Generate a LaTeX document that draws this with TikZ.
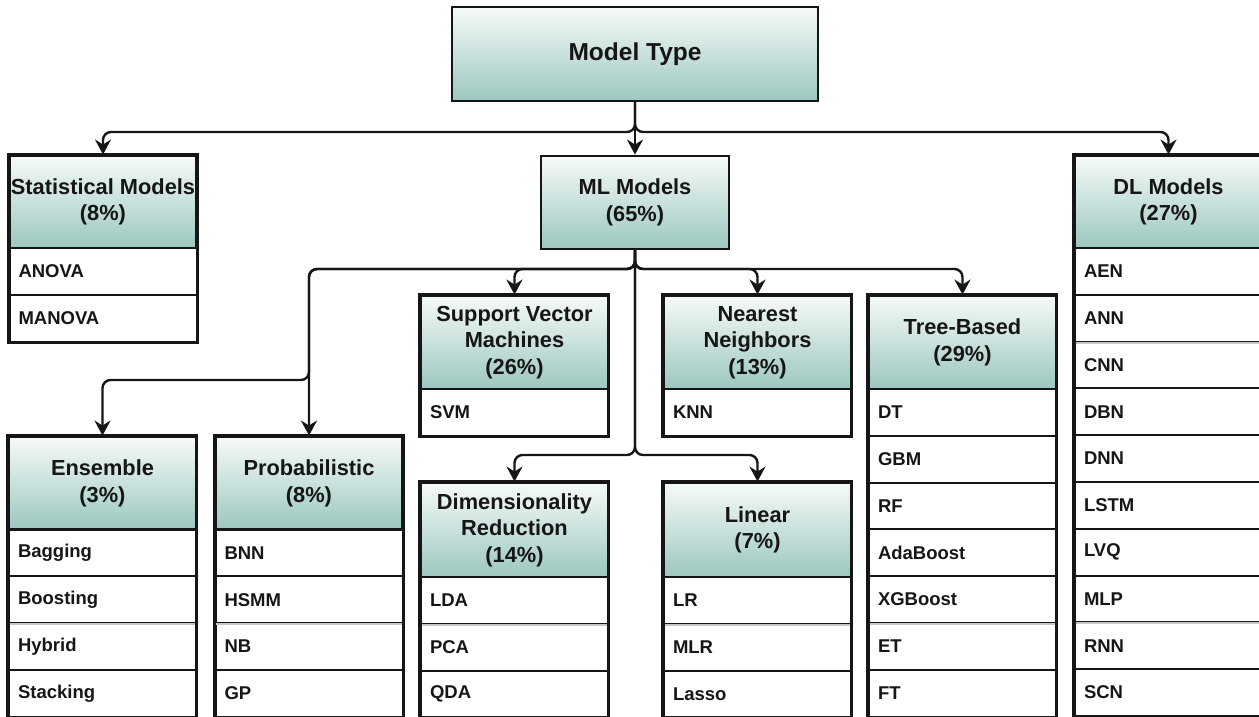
\documentclass[tikz,border=0pt]{standalone}
\usepackage{fontspec}
\setmainfont{Liberation Sans}
\usetikzlibrary{arrows.meta}
\definecolor{hdtop}{RGB}{246,250,249}
\definecolor{hdbot}{RGB}{155,199,191}
\definecolor{ink}{RGB}{22,22,22}
\newcommand\mkcol[7]{%
  \node[hdr, minimum height=#4pt] (#1) at (#2,{#3+#4/2}) {#5};
  \foreach \rowtxt [count=\ri] in {#6} {\node[rowbox] (#1-\ri) at (#2,{#3+#4+\ri*46.8-23.4}) {\rowtxt};}
  \draw[frame] (#1.north west) rectangle (#1-#7.south east);
}
\begin{document}
\begin{tikzpicture}[x=1pt,y=-1pt,
  hdr/.style={rectangle, draw=ink, line width=2.9pt, top color=hdtop, bottom color=hdbot,
    minimum width=187pt, align=center, font=\fontsize{21.8}{26.5}\selectfont\bfseries, text=ink, inner sep=0pt},
  rowbox/.style={rectangle, draw=ink, line width=2pt, minimum width=187pt, minimum height=46.8pt,
    text width=169pt, inner xsep=9pt, inner ysep=0pt, align=left,
    font=\fontsize{18.5}{21}\selectfont\bfseries, text=ink},
  conn/.style={draw=ink, line width=2.4pt, rounded corners=8pt,
    -{Stealth[length=15pt,width=16pt,inset=5pt]}},
  frame/.style={draw=ink, line width=2.9pt},
  softdiv/.style={draw=black!22, line width=2pt}
]
\useasboundingbox (0,0) rectangle (1259,716);
\clip (0,0) rectangle (1259,716);
\fill[white] (0,0) rectangle (1259,716);

% top
\node[hdr, minimum width=366pt, minimum height=94pt, font=\fontsize{24.5}{28}\selectfont\bfseries] (mt) at (635,54) {Model Type};

% first level
\mkcol{stat}{103}{156}{92}{Statistical Models\\(8\%)}{ANOVA,MANOVA}{2}
\node[hdr, minimum width=188pt, minimum height=93pt] (ml) at (635,202.5) {ML Models\\(65\%)};
\mkcol{dl}{1168.5}{156}{92}{DL Models\\(27\%)}{AEN,ANN,CNN,DBN,DNN,LSTM,LVQ,MLP,RNN,SCN}{10}

% ML children
\mkcol{svm}{514.5}{296}{93}{Support Vector\\Machines\\(26\%)}{SVM}{1}
\mkcol{nn}{757.5}{296}{93}{Nearest\\Neighbors\\(13\%)}{KNN}{1}
\mkcol{tree}{962.5}{296}{93}{Tree-Based\\(29\%)}{DT,GBM,RF,AdaBoost,XGBoost,ET,FT}{7}
\mkcol{ens}{102.5}{437}{92.5}{Ensemble\\(3\%)}{Bagging,Boosting,Hybrid,Stacking}{4}
\mkcol{prob}{309}{437}{92.5}{Probabilistic\\(8\%)}{BNN,HSMM,NB,GP}{4}
\mkcol{dim}{514.5}{483}{94}{Dimensionality\\Reduction\\(14\%)}{LDA,PCA,QDA}{3}
\mkcol{lin}{757.5}{483}{94}{Linear\\(7\%)}{LR,MLR,Lasso}{3}

% lighter dividers
\foreach \dv in {ens-2,prob-2,dim-1,lin-1,tree-5,dl-2,dl-8}{
  \draw[softdiv] ([xshift=1.6pt]\dv.south west) -- ([xshift=-1.6pt]\dv.south east);
}

% connectors
\coordinate (j1) at (635,132);
\coordinate (j2) at (635,269);
\coordinate (j3) at (309,380);
\coordinate (j4) at (635,455);

\draw[conn] (mt.south) -- (j1) -| (stat.north);
\draw[conn] (mt.south) -- (ml.north);
\draw[conn] (mt.south) -- (j1) -| (dl.north);

\draw[conn] (ml.south) -- (j2) -| (svm.north);
\draw[conn] (ml.south) -- (j2) -| (nn.north);
\draw[conn] (ml.south) -- (j2) -| (tree.north);
\draw[conn] (ml.south) -- (j2) -| (prob.north);
\draw[conn] (ml.south) -- (j2) -| (j3) -| (ens.north);
\draw[conn] (ml.south) -- (j4) -| (dim.north);
\draw[conn] (ml.south) -- (j4) -| (lin.north);
\end{tikzpicture}
\end{document}
